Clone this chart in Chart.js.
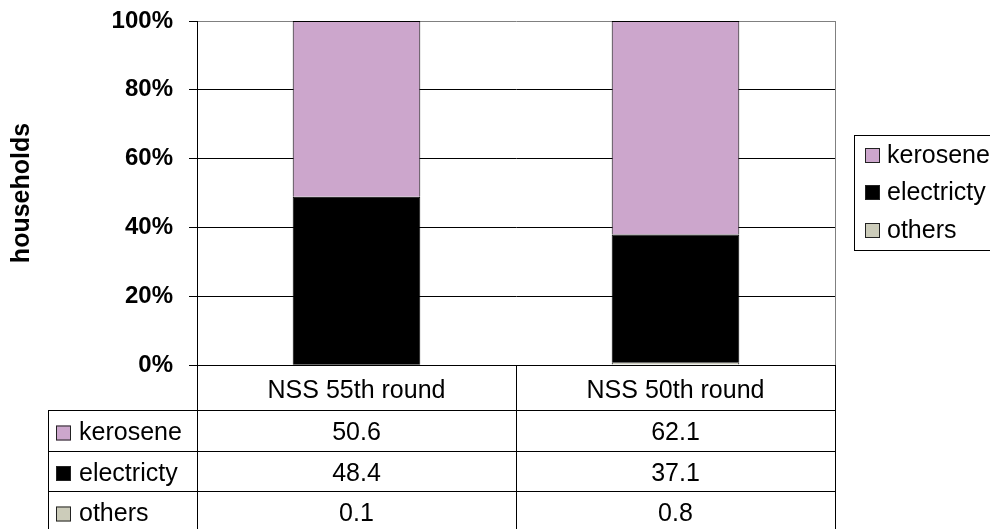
<!DOCTYPE html>
<html>
<head>
<meta charset="utf-8">
<script src="https://cdn.jsdelivr.net/npm/chart.js@4/dist/chart.umd.min.js"></script>
<style>
  html, body { margin: 0; padding: 0; background: #fff; }
  #wrap { width: 990px; height: 529px; }
</style>
</head>
<body>
<div id="wrap"><canvas id="myChart" width="990" height="529"></canvas></div>
<script>
// data
var categories = ["NSS 55th round", "NSS 50th round"];
var kerosene   = [50.6, 62.1];
var electricty = [48.4, 37.1];
var others     = [0.1, 0.8];
var yTicks     = [0, 20, 40, 60, 80, 100];

var keroColor  = "#CCA6CC";
var elecColor  = "#000000";
var othColor   = "#CCCCBA";

// 100% stacked: share of each round's total
function share(arr){
  return arr.map(function(v, i){
    var tot = kerosene[i] + electricty[i] + others[i];
    return v / tot * 100;
  });
}

var rows = [
  {label: "kerosene",   values: kerosene,   color: keroColor},
  {label: "electricty", values: electricty, color: elecColor},
  {label: "others",     values: others,     color: othColor}
];

var tablePlugin = {
  id: "tableAndLegend",
  afterDraw: function(chart){
    var c = chart.ctx, a = chart.chartArea, xs = chart.scales.x;
    var left = a.left, right = a.right, bottom = a.bottom;
    var mid = (xs.getPixelForValue(0) + xs.getPixelForValue(1)) / 2;
    var rowTop = [410, 451, 491, 532];
    c.save();
    // plot area right border
    c.strokeStyle = "#808080";
    c.lineWidth = 1;
    c.beginPath();
    c.moveTo(Math.round(right) + 0.5, a.top);
    c.lineTo(Math.round(right) + 0.5, bottom);
    c.stroke();

    // table grid
    c.strokeStyle = "#000";
    c.beginPath();
    [left, mid, right].forEach(function(x){
      x = Math.round(x) + 0.5;
      c.moveTo(x, bottom);
      c.lineTo(x, 529);
    });
    c.moveTo(48.5, rowTop[0]);
    c.lineTo(48.5, 529);
    rowTop.forEach(function(y){
      c.moveTo(48, y + 0.5);
      c.lineTo(right + 1, y + 0.5);
    });
    c.stroke();

    c.font = "25px 'Liberation Sans', Arial, sans-serif";
    c.fillStyle = "#000";
    c.textBaseline = "middle";
    c.textAlign = "center";
    categories.forEach(function(cat, i){
      c.fillText(cat, xs.getPixelForValue(i), (bottom + rowTop[0]) / 2 + 4);
    });
    rows.forEach(function(r, k){
      var yc = (rowTop[k] + rowTop[k + 1]) / 2 + 3;
      c.fillStyle = r.color;
      c.fillRect(56, yc - 8, 15, 15);
      c.strokeStyle = "#222";
      c.strokeRect(56.5, yc - 7.5, 14, 14);
      c.fillStyle = "#000";
      c.textAlign = "left";
      c.fillText(r.label, 79, yc);
      c.textAlign = "center";
      r.values.forEach(function(v, i){
        c.fillText(v.toFixed(1), xs.getPixelForValue(i), yc);
      });
    });

    // legend box
    c.strokeStyle = "#000";
    c.strokeRect(854.5, 135.5, 200, 115);
    var ly = [156, 193, 231];
    rows.forEach(function(r, k){
      c.fillStyle = r.color;
      c.fillRect(865, ly[k] - 8, 15, 15);
      c.strokeStyle = "#222";
      c.strokeRect(865.5, ly[k] - 7.5, 14, 14);
      c.fillStyle = "#000";
      c.textAlign = "left";
      c.fillText(r.label, 887, ly[k]);
    });
    c.restore();
  }
};

let myChart = document.getElementById("myChart").getContext("2d");
let barChart = new Chart(myChart, {
  type: "bar",
  data: {
    labels: categories,
    datasets: [
      {label: "others",     data: share(others),     backgroundColor: othColor,  borderColor: "#000", borderWidth: 1},
      {label: "electricty", data: share(electricty), backgroundColor: elecColor, borderColor: "#000", borderWidth: 1},
      {label: "kerosene",   data: share(kerosene),   backgroundColor: keroColor, borderColor: "#000", borderWidth: 1}
    ]
  },
  options: {
    responsive: false,
    animation: false,
    layout: {padding: {top: 21, right: 155, left: 0, bottom: 0}},
    datasets: {bar: {barPercentage: 0.4, categoryPercentage: 1}},
    plugins: {legend: {display: false}, tooltip: {enabled: false}},
    scales: {
      x: {
        stacked: true,
        ticks: {display: false},
        grid: {display: false},
        border: {display: true, color: "#000", width: 1},
        afterFit: function(s){ s.height = 164; s.paddingLeft = 0; s.paddingRight = 0; }
      },
      y: {
        stacked: true,
        min: 0,
        max: 100,
        afterBuildTicks: function(s){ s.ticks = yTicks.map(function(v){ return {value: v}; }); },
        ticks: {
          padding: 16,
          color: "#000",
          font: {family: "'Liberation Sans', Arial, sans-serif", size: 24, weight: "bold"},
          callback: function(v){ return v + "%"; }
        },
        grid: {
          color: function(ctx){ return ctx.tick && ctx.tick.value === 100 ? "#808080" : "#000"; },
          tickColor: "#000",
          tickLength: 8,
          lineWidth: 1
        },
        border: {display: true, color: "#000", width: 1},
        title: {
          display: true,
          text: "households",
          color: "#000",
          padding: {top: 7, bottom: 0},
          font: {family: "'Liberation Sans', Arial, sans-serif", size: 25, weight: "bold"}
        },
        afterFit: function(s){ s.width = 197; s.paddingTop = 0; s.paddingBottom = 0; }
      }
    }
  },
  plugins: [tablePlugin]
});
</script>
</body>
</html>
